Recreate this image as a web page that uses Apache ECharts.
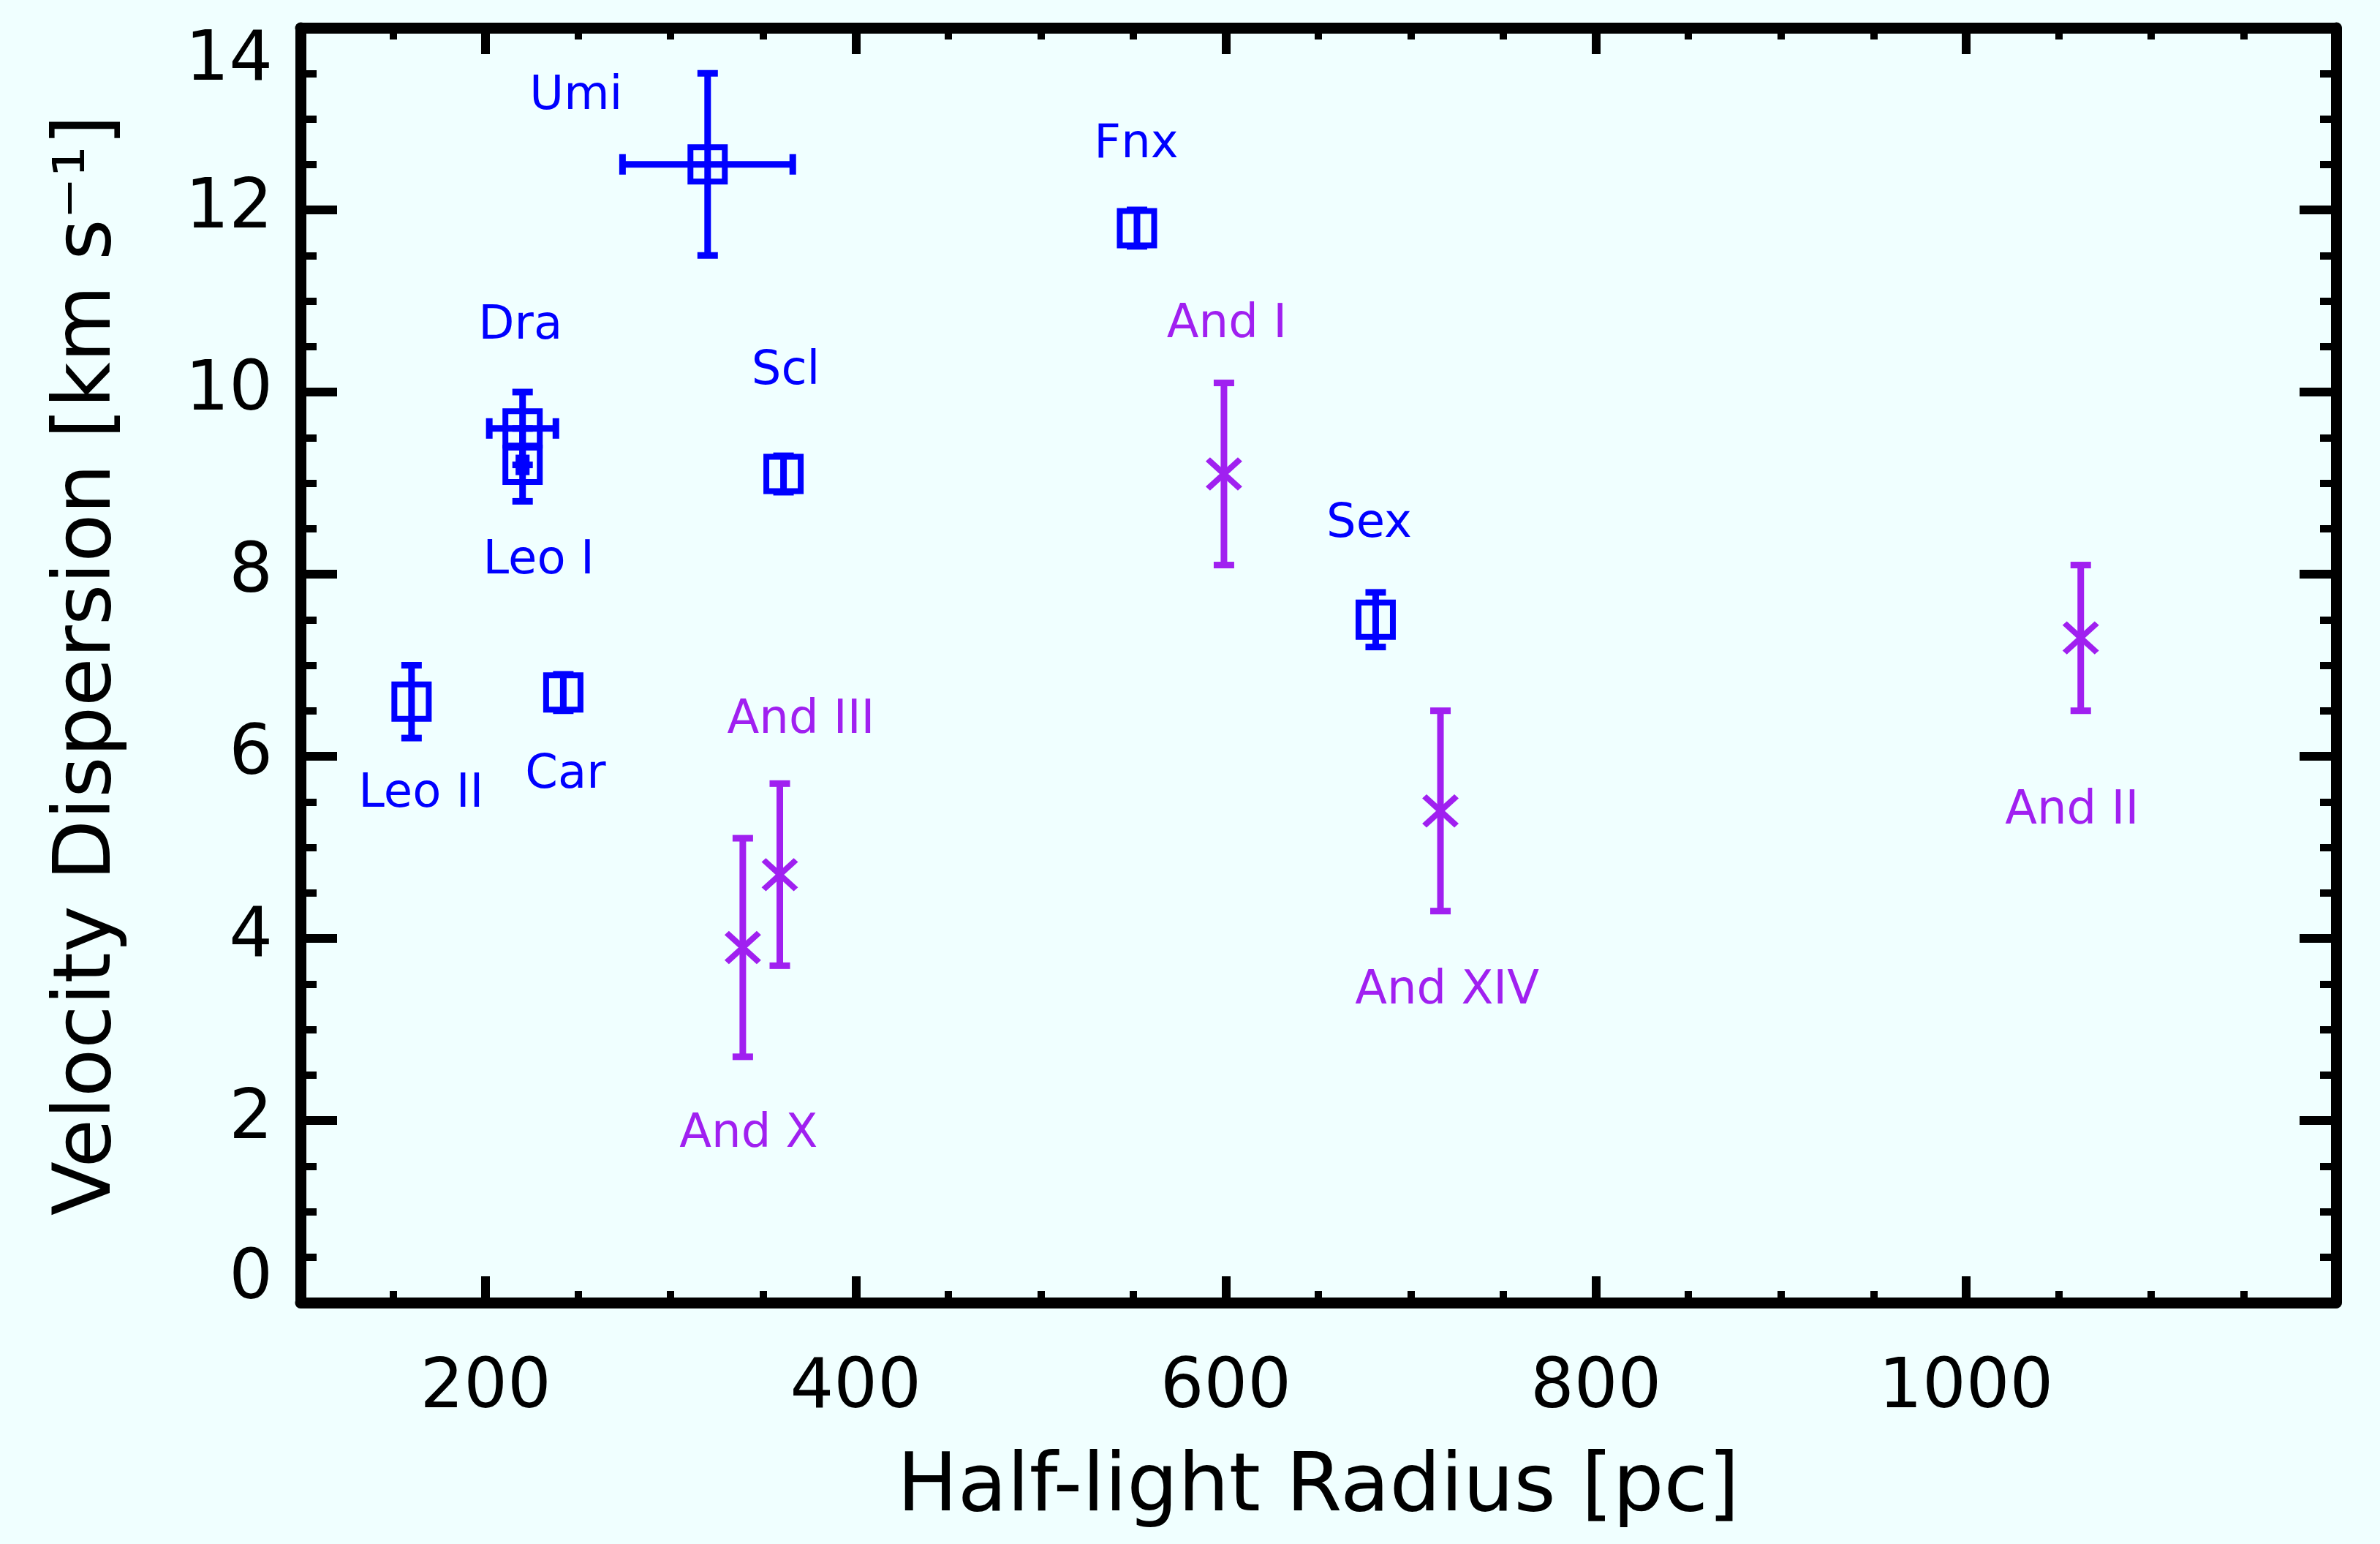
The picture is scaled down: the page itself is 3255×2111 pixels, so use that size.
<!DOCTYPE html>
<html>
<head>
<meta charset="utf-8">
<script src="https://cdn.jsdelivr.net/npm/echarts@6/dist/echarts.min.js"></script>
<style>
html, body { margin: 0; background: #f0ffff; }
#main { width: 3255px; height: 2111px; }
</style>
</head>
<body>
<div id="main"></div>
<script>
// Milky Way dwarfs (blue squares)
var mwNames = ['Leo II', 'Dra', 'Leo I', 'Car', 'Umi', 'Scl', 'Fnx', 'Sex'];
var mwRadius = [160, 220, 220, 242, 320, 361, 552, 681];
var mwRadiusErr = [0, 18, 2, 0, 46, 0, 0, 0];
var mwSigma = [6.6, 9.6, 9.2, 6.7, 12.5, 9.1, 11.8, 7.5];
var mwSigmaErr = [0.4, 0.4, 0.4, 0.2, 1.0, 0.2, 0.2, 0.3];

// M31 dwarfs (purple crosses)
var m31Names = ['And X', 'And III', 'And I', 'And XIV', 'And II'];
var m31Radius = [339, 359, 599, 716, 1062];
var m31Sigma = [3.9, 4.7, 9.1, 5.4, 7.3];
var m31SigmaErr = [1.2, 1.0, 1.0, 1.1, 0.8];

var xTicks = [200, 400, 600, 800, 1000];

// label placement relative to the marker, in pixels
var labelOffset = {
    'Leo II': [13, 127], 'Dra': [-3, -139], 'Leo I': [22, 132], 'Car': [3, 114],
    'Umi': [-180, -92], 'Scl': [3, -140], 'Fnx': [-1, -114], 'Sex': [-9, -130],
    'And X': [8, 256], 'And III': [29, -210], 'And I': [4, -204],
    'And XIV': [9, 247], 'And II': [-12, 237]
};

var BLUE = '#0000ff';
var PURPLE = '#a020f0';
var FONT = 'DejaVu Sans';

var myChart = echarts.init(document.getElementById('main'));

function errorBars(xs, ys, xErr, yErr, color) {
    var data = xs.map(function (x, i) {
        return [x, ys[i], xErr ? xErr[i] : 0, yErr[i]];
    });
    return {
        type: 'custom',
        data: data,
        encode: { x: 0, y: 1 },
        z: 3,
        silent: true,
        renderItem: function (params, api) {
            var x = api.value(0), y = api.value(1);
            var dx = api.value(2), dy = api.value(3);
            var style = { stroke: color, lineWidth: 9 };
            var cap = 14;
            var out = [];
            if (dy > 0) {
                var t = api.coord([x, y + dy]), b = api.coord([x, y - dy]);
                out.push({ type: 'line', shape: { x1: t[0], y1: t[1], x2: b[0], y2: b[1] }, style: style });
                out.push({ type: 'line', shape: { x1: t[0] - cap, y1: t[1], x2: t[0] + cap, y2: t[1] }, style: style });
                out.push({ type: 'line', shape: { x1: b[0] - cap, y1: b[1], x2: b[0] + cap, y2: b[1] }, style: style });
            }
            if (dx > 0) {
                var l = api.coord([x - dx, y]), r = api.coord([x + dx, y]);
                out.push({ type: 'line', shape: { x1: l[0], y1: l[1], x2: r[0], y2: r[1] }, style: style });
                out.push({ type: 'line', shape: { x1: l[0], y1: l[1] - cap, x2: l[0], y2: l[1] + cap }, style: style });
                out.push({ type: 'line', shape: { x1: r[0], y1: r[1] - cap, x2: r[0], y2: r[1] + cap }, style: style });
            }
            return { type: 'group', children: out };
        }
    };
}

function points(names, xs, ys) {
    return names.map(function (n, i) {
        return {
            name: n,
            value: [xs[i], ys[i]],
            label: { offset: labelOffset[n] }
        };
    });
}

var labelStyle = function (color) {
    return {
        show: true,
        position: 'inside',
        formatter: '{b}',
        color: color,
        fontFamily: FONT,
        fontSize: 64
    };
};

var frame = { show: true, lineStyle: { color: '#000', width: 15 } };

var option = {
    backgroundColor: '#f0ffff',
    animation: false,
    grid: { left: 411, right: 60, top: 38, bottom: 330 },
    xAxis: [
        {
            type: 'value', min: 100, max: 1200, position: 'bottom',
            axisLine: frame,
            axisTick: { show: true, inside: true, length: 36, customValues: xTicks, lineStyle: { color: '#000', width: 12 } },
            axisLabel: {
                customValues: xTicks, margin: 72, color: '#000', fontFamily: FONT, fontSize: 94,
                formatter: function (v) { return String(v); }
            },
            splitLine: { show: false },
            name: 'Half-light Radius [pc]', nameLocation: 'middle', nameGap: 200,
            nameTextStyle: { color: '#000', fontFamily: FONT, fontSize: 110 }
        },
        {
            type: 'value', min: 100, max: 1200, interval: 50, position: 'bottom',
            axisLine: { show: false },
            axisTick: { show: true, inside: true, length: 16, lineStyle: { color: '#000', width: 10 } },
            axisLabel: { show: false }, splitLine: { show: false }
        },
        {
            type: 'value', min: 100, max: 1200, position: 'top',
            axisLine: frame,
            axisTick: { show: true, inside: true, length: 36, customValues: xTicks, lineStyle: { color: '#000', width: 12 } },
            axisLabel: { show: false }, splitLine: { show: false }
        },
        {
            type: 'value', min: 100, max: 1200, interval: 50, position: 'top',
            axisLine: { show: false },
            axisTick: { show: true, inside: true, length: 16, lineStyle: { color: '#000', width: 10 } },
            axisLabel: { show: false }, splitLine: { show: false }
        }
    ],
    yAxis: [
        {
            type: 'value', min: 0, max: 14, interval: 2, position: 'left',
            axisLine: frame,
            axisTick: { show: true, inside: true, length: 50, lineStyle: { color: '#000', width: 12 } },
            minorTick: { show: true, splitNumber: 4, length: 22, lineStyle: { color: '#000', width: 10 } },
            axisLabel: {
                margin: 38, color: '#000', fontFamily: FONT, fontSize: 94,
                verticalAlignMinLabel: 'bottom', verticalAlignMaxLabel: 'top',
                formatter: function (v) { return v === 0 ? '{z|0}' : String(v); },
                rich: { z: { color: '#000', fontFamily: FONT, fontSize: 94, lineHeight: 60 } }
            },
            splitLine: { show: false },
            name: 'Velocity Dispersion [km s\u207b\u00b9]', nameLocation: 'middle', nameGap: 235,
            nameTextStyle: { color: '#000', fontFamily: FONT, fontSize: 108 }
        },
        {
            type: 'value', min: 0, max: 14, interval: 2, position: 'right',
            axisLine: frame,
            axisTick: { show: true, inside: true, length: 50, lineStyle: { color: '#000', width: 12 } },
            minorTick: { show: true, splitNumber: 4, length: 22, lineStyle: { color: '#000', width: 10 } },
            axisLabel: { show: false }, splitLine: { show: false }
        }
    ],
    series: [
        errorBars(mwRadius, mwSigma, mwRadiusErr, mwSigmaErr, BLUE),
        errorBars(m31Radius, m31Sigma, null, m31SigmaErr, PURPLE),
        {
            type: 'scatter',
            z: 4,
            symbol: 'rect',
            symbolSize: 47,
            itemStyle: { color: 'transparent', borderColor: BLUE, borderWidth: 8, opacity: 1 },
            label: labelStyle(BLUE),
            data: points(mwNames, mwRadius, mwSigma)
        },
        {
            type: 'scatter',
            z: 4,
            symbol: 'path://M0,0L10,10M10,0L0,10',
            symbolSize: [44, 40],
            symbolKeepAspect: false,
            itemStyle: { color: 'transparent', borderColor: PURPLE, borderWidth: 8, opacity: 1 },
            label: labelStyle(PURPLE),
            data: points(m31Names, m31Radius, m31Sigma)
        }
    ]
};

myChart.setOption(option);
</script>
</body>
</html>
